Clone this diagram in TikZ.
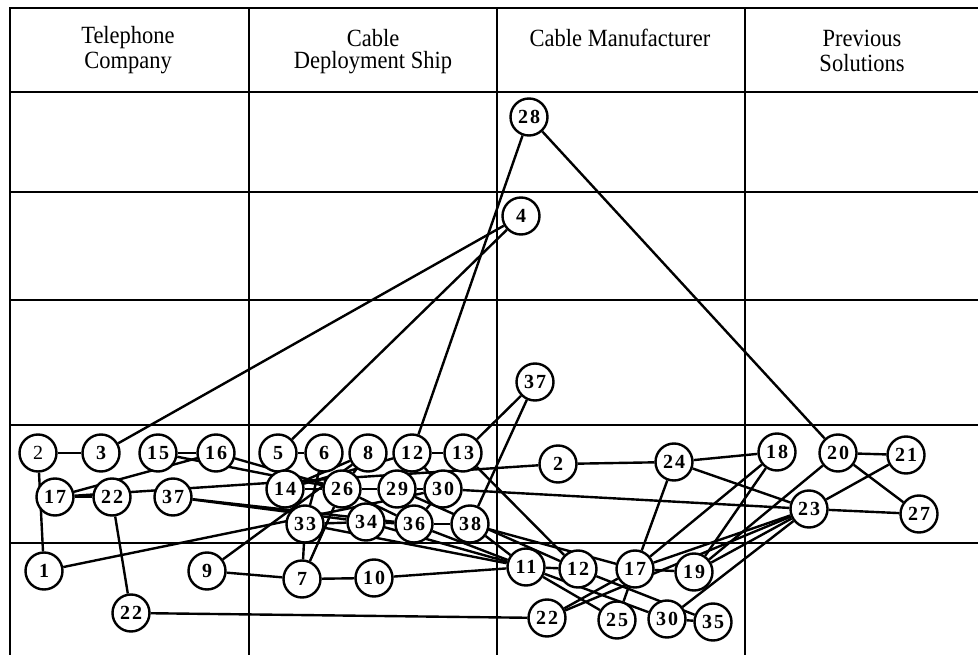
\documentclass[tikz,border=0pt]{standalone}
\usepackage{fontspec}
\setmainfont{Liberation Serif}
\newfontfamily\nodefont[LetterSpace=10]{Liberation Serif}
\usetikzlibrary{backgrounds}
\newcommand{\tallt}[1]{\scalebox{1}[1.1]{#1}}
\begin{document}
\begin{tikzpicture}[x=1pt,y=-1pt,
  nd/.style={circle,draw,line width=2.4pt,fill=white,minimum size=37pt,inner sep=0pt,
    font=\nodefont\bfseries\fontsize{20}{20}\selectfont},
  ndl/.style={nd,font=\nodefont\fontsize{20}{20}\selectfont},
  ed/.style={line width=2.4pt},
  grid/.style={line width=2.4pt},
  hd/.style={font=\fontsize{22.5}{21}\selectfont,inner sep=0pt}]
\useasboundingbox (0,0) rectangle (978,655);
% grid
\draw[grid] (10,655) -- (10,8) -- (978,8);
\foreach \x in {249,497,745} \draw[grid] (\x,8) -- (\x,655);
\foreach \y in {92,192,300,425,543} \draw[grid] (10,\y) -- (978,\y);
% headers
\node[hd] (h1a) at (128,38) {\tallt{Telephone}};
\node[hd] (h1b) at (128,63) {\tallt{Company}};
\node[hd] (h2a) at (373,38) {\tallt{Cable}};
\node[hd] (h2b) at (373,63) {\tallt{Deployment Ship}};
\node[hd] (h3) at (620,38) {\tallt{Cable Manufacturer}};
\node[hd] (h4a) at (862,38) {\tallt{Previous}};
\node[hd] (h4b) at (862,63) {\tallt{Solutions}};
% nodes column 1
\node[ndl] (a2) at (38,453) {2};
\node[nd] (a3) at (101,453) {3};
\node[nd] (a15) at (158,453) {15};
\node[nd] (a16) at (216,453) {16};
\node[nd] (a17) at (55,497) {17};
\node[nd] (a22) at (112,497) {22};
\node[nd] (a37) at (173,497) {37};
\node[nd] (a1) at (44,571) {1};
\node[nd] (a9) at (207,571) {9};
\node[nd] (a22b) at (131,613) {22};
% column 2
\node[nd] (b5) at (278,453) {5};
\node[nd] (b6) at (324,453) {6};
\node[nd] (b8) at (368,453) {8};
\node[nd] (b12) at (412,453) {12};
\node[nd] (b13) at (463,453) {13};
\node[nd] (b14) at (285,489) {14};
\node[nd] (b26) at (342,489) {26};
\node[nd] (b29) at (397,489) {29};
\node[nd] (b30) at (443,489) {30};
\node[nd] (b33) at (305,524) {33};
\node[nd] (b34) at (366,522) {34};
\node[nd] (b36) at (414,524) {36};
\node[nd] (b38) at (470,524) {38};
\node[nd] (b7) at (302,579) {7};
\node[nd] (b10) at (374,578) {10};
% column 3
\node[nd] (c28) at (529,117) {28};
\node[nd] (c4) at (521,216) {4};
\node[nd] (c37) at (535,382) {37};
\node[nd] (c2) at (558,464) {2};
\node[nd] (c24) at (674,462) {24};
\node[nd] (c11) at (526,567) {11};
\node[nd] (c12) at (578,569) {12};
\node[nd] (c17) at (635,569) {17};
\node[nd] (c19) at (694,572) {19};
\node[nd] (c22) at (547,618) {22};
\node[nd] (c25) at (617,620) {25};
\node[nd] (c30) at (667,619) {30};
\node[nd] (c35) at (713,622) {35};
% column 4
\node[nd] (d18) at (777,452) {18};
\node[nd] (d20) at (838,453) {20};
\node[nd] (d21) at (906,455) {21};
\node[nd] (d23) at (809,509) {23};
\node[nd] (d27) at (919,514) {27};
% edges
\begin{scope}[on background layer]
\foreach \p/\q in {a2/a3,a2/a1,a3/c4,a15/a16,a15/b26,a16/b26,a16/a17,a17/a22,a17/c2,
  a22/a22b,a22b/c22,a37/b34,a37/b36,a1/b30,a9/b8,a9/b7,
  b5/b6,b5/c4,b6/b33,b7/b33,b7/b26,b7/b10,b10/c11,b8/b14,b8/b26,b12/b13,b12/c28,
  b12/b14,b12/b30,b13/c12,b13/c37,b38/c37,b26/b29,b29/b30,b30/b36,b33/b34,b34/b36,
  b36/b38,b14/b26,b26/b36,b34/c11,b36/c11,b38/c11,b33/c11,b38/c17,b29/c12,b30/d23,
  c2/c24,c24/d18,c24/c17,c24/d23,d18/c17,d18/c19,c17/c19,c17/d23,c19/d23,c30/d23,
  c22/c17,c22/d23,c25/c17,c11/c12,c11/c25,c11/c30,c12/c35,c30/c35,
  d20/c28,d20/d21,d20/d27,d20/c19,d21/d23,d23/d27}
  \draw[ed] (\p) -- (\q);
\end{scope}
\end{tikzpicture}
\end{document}
